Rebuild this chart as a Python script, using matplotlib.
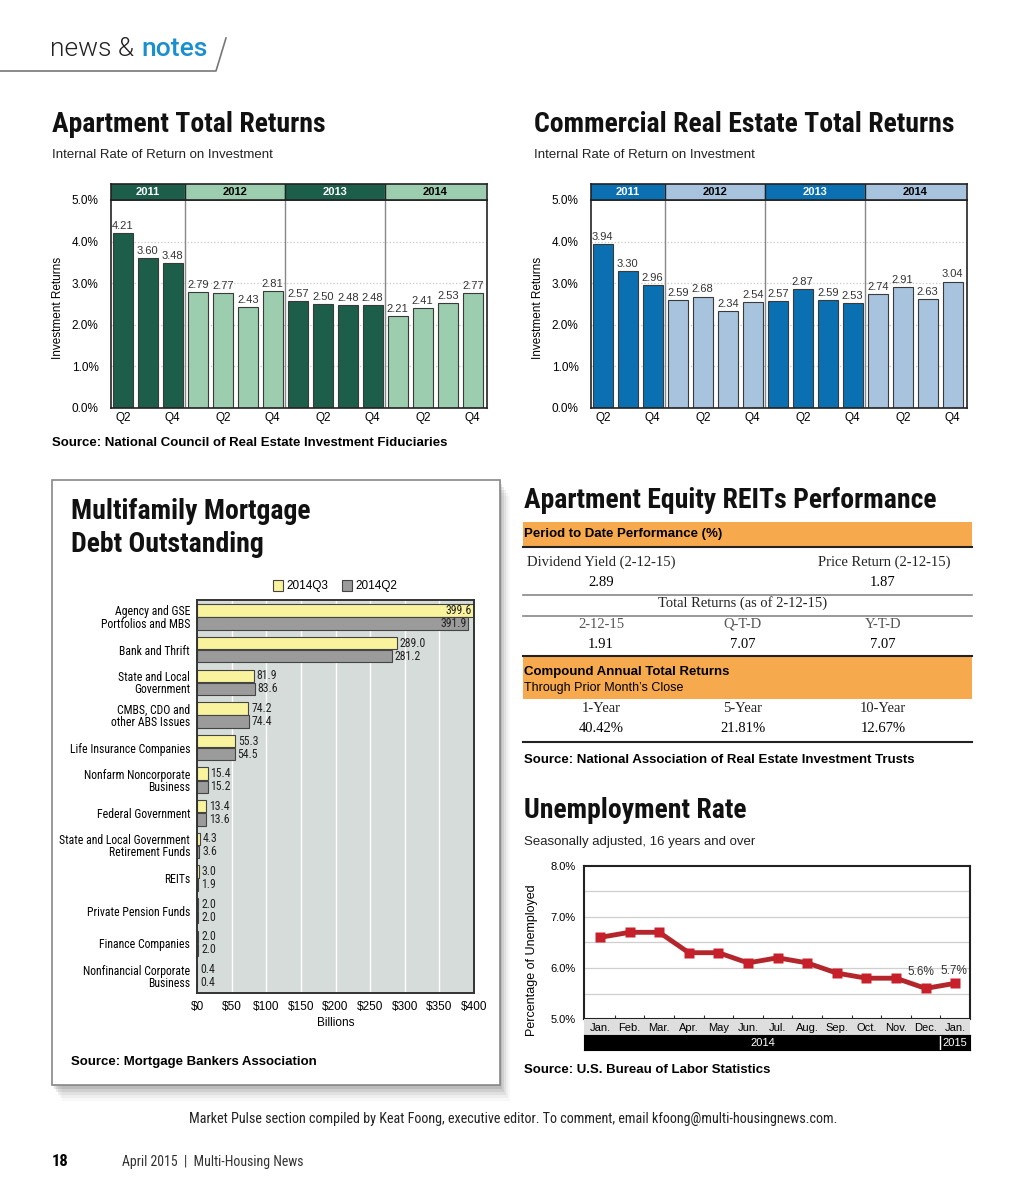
import matplotlib
matplotlib.use("Agg")
import matplotlib.pyplot as plt
from matplotlib import font_manager
from matplotlib.patches import Rectangle
from matplotlib.lines import Line2D
import numpy as np

W, H = 1024, 1195

# ============================================================================
# 数据
# ============================================================================
years = ["2011", "2012", "2013", "2014"]
year_counts = [3, 4, 4, 4]
quarters = ["Q2", "Q3", "Q4"] + ["Q1", "Q2", "Q3", "Q4"] * 3
apt_returns = [4.21, 3.60, 3.48, 2.79, 2.77, 2.43, 2.81, 2.57, 2.50, 2.48, 2.48,
               2.21, 2.41, 2.53, 2.77]
cre_returns = [3.94, 3.30, 2.96, 2.59, 2.68, 2.34, 2.54, 2.57, 2.87, 2.59, 2.53,
               2.74, 2.91, 2.63, 3.04]

debt_categories = ["Agency and GSE\nPortfolios and MBS", "Bank and Thrift",
                   "State and Local\nGovernment", "CMBS, CDO and\nother ABS Issues",
                   "Life Insurance Companies", "Nonfarm Noncorporate\nBusiness",
                   "Federal Government", "State and Local Government\nRetirement Funds",
                   "REITs", "Private Pension Funds", "Finance Companies",
                   "Nonfinancial Corporate\nBusiness"]
debt_2014q3 = [399.6, 289.0, 81.9, 74.2, 55.3, 15.4, 13.4, 4.3, 3.0, 2.0, 2.0, 0.4]
debt_2014q2 = [391.9, 281.2, 83.6, 74.4, 54.5, 15.2, 13.6, 3.6, 1.9, 2.0, 2.0, 0.4]
debt_ticks = [0, 50, 100, 150, 200, 250, 300, 350, 400]

months = ["Jan.", "Feb.", "Mar.", "Apr.", "May", "Jun.", "Jul.", "Aug.", "Sep.",
          "Oct.", "Nov.", "Dec.", "Jan."]
unemployment = [6.6, 6.7, 6.7, 6.3, 6.3, 6.1, 6.2, 6.1, 5.9, 5.8, 5.8, 5.6, 5.7]

reit_period_labels = ["Dividend Yield (2-12-15)", "Price Return (2-12-15)"]
reit_period_values = ["2.89", "1.87"]
reit_total_labels = ["2-12-15", "Q-T-D", "Y-T-D"]
reit_total_values = ["1.91", "7.07", "7.07"]
reit_annual_labels = ["1-Year", "5-Year", "10-Year"]
reit_annual_values = ["40.42%", "21.81%", "12.67%"]

# ── 字体 ──
available = {f.name for f in font_manager.fontManager.ttflist}


def pick(cands, default="Liberation Sans"):
    for c in cands:
        if c in available:
            return c
    return default


NARROW = pick(["Roboto Condensed", "Archivo Narrow", "PT Sans Narrow",
               "Liberation Sans Narrow", "Open Sans Condensed"])
LIGHT = pick(["Roboto", "Lato", "Open Sans"])
SANS = "Liberation Sans"
SERIF = "Liberation Serif"
plt.rcParams["font.family"] = SANS

fig = plt.figure(figsize=(W / 100, H / 100), dpi=100)


def px_axes(l, t, r, b, **kw):
    return fig.add_axes([l / W, 1 - b / H, (r - l) / W, (b - t) / H], **kw)


def T(x, y, s, **kw):
    kw.setdefault("va", "center")
    return fig.text(x / W, 1 - y / H, s, **kw)


def rect(l, t, r, b, **kw):
    fig.add_artist(Rectangle((l / W, 1 - b / H), (r - l) / W, (b - t) / H,
                             transform=fig.transFigure, **kw))


def hline(x0, x1, y, **kw):
    fig.add_artist(Line2D([x0 / W, x1 / W], [1 - y / H, 1 - y / H],
                          transform=fig.transFigure, **kw))


def title(x, y, s):
    T(x, y, s, fontsize=20, fontweight="bold", family=NARROW, color="#111")


# ============================================================================
# 页眉
# ============================================================================
T(50, 49, "news &", fontsize=19, color="#222", family=LIGHT, fontweight=300)
T(141, 49, "notes", fontsize=19, color="#1a8fd0", family=LIGHT, fontweight="medium")
fig.add_artist(Line2D(np.array([0, 216, 226]) / W, 1 - np.array([71, 71, 38]) / H,
                      transform=fig.transFigure, color="#777", lw=1.2))


# ============================================================================
# 回报柱状图
# ============================================================================
def returns_chart(left, right, title_x, name, values, dark, light, source=None):
    title(title_x, 125, name)
    T(title_x, 155, "Internal Rate of Return on Investment", fontsize=9.5, color="#222")

    x = np.arange(len(values))
    year_idx = np.repeat(np.arange(len(years)), year_counts)
    cols = [dark if k % 2 == 0 else light for k in year_idx]
    bounds = np.cumsum(year_counts)[:-1] - 0.5

    ax = px_axes(left, 200, right, 408)
    for y in [1, 2, 3, 4]:
        ax.axhline(y, color="#c8c8c8", ls=":", lw=0.9, zorder=0)
    for b in bounds:
        ax.axvline(b, color="#888", lw=1.0, zorder=0)
    ax.bar(x, values, width=0.78, color=cols, edgecolor="#3a3a3a", linewidth=0.8, zorder=2)
    for i, v in enumerate(values):
        ax.text(i, v + 0.05, f"{v:.2f}", ha="center", va="bottom", fontsize=8, color="#333")
    ax.set_xlim(-0.47, len(values) - 0.43)
    ax.set_ylim(0, 5)
    ax.set_yticks([0, 1, 2, 3, 4, 5])
    ax.set_yticklabels([f"{v:.1f}%" for v in range(6)], fontsize=8.5)
    qi = [i for i, q in enumerate(quarters) if q in ("Q2", "Q4")]
    ax.set_xticks(qi)
    ax.set_xticklabels([quarters[i] for i in qi], fontsize=8.5)
    ax.tick_params(length=0, pad=3)
    ax.tick_params(axis="y", pad=9)
    for s in ax.spines.values():
        s.set_color("#222")
        s.set_linewidth(1.2)
    T(left - 53, 308, "Investment Returns", fontsize=8.5, rotation=90, ha="center")

    # 年份色带
    band = px_axes(left, 184, right, 200)
    band.set_xlim(ax.get_xlim())
    band.set_ylim(0, 1)
    start = 0
    for k, (yr, n) in enumerate(zip(years, year_counts)):
        c = dark if k % 2 == 0 else light
        band.add_patch(Rectangle((start - 0.5, 0), n, 1, color=c))
        band.text(start - 0.5 + n / 2, 0.48, yr, ha="center", va="center", fontsize=8,
                  fontweight="bold", color="white" if k % 2 == 0 else "black")
        if k > 0:
            band.axvline(start - 0.5, color="#222", lw=1.0)
        start += n
    band.set_xticks([])
    band.set_yticks([])
    for s in band.spines.values():
        s.set_color("#222")
        s.set_linewidth(1.2)

    if source:
        T(title_x, 443, source, fontsize=9.5, fontweight="bold")


returns_chart(111, 487, 52, "Apartment Total Returns", apt_returns, "#1c5e4a", "#9ccdae",
              "Source: National Council of Real Estate Investment Fiduciaries")
returns_chart(591, 967, 534, "Commercial Real Estate Total Returns", cre_returns,
              "#0a70b2", "#a7c3de")


# ============================================================================
# Multifamily 贷款余额
# ============================================================================
for k, a in enumerate([0.04, 0.06, 0.09, 0.12, 0.16, 0.2]):
    off = 16 - k * 3
    rect(52 + off * 0.6, 480 + off, 500 + off * 0.6, 1085 + off, facecolor="#555",
         edgecolor="none", alpha=a, zorder=0)
rect(52, 480, 500, 1085, facecolor="white", edgecolor="#888", lw=1.2, zorder=1)
title(71, 512, "Multifamily Mortgage")
title(71, 545, "Debt Outstanding")

rect(273, 580, 283, 591, facecolor="#f8f39c", edgecolor="#444", lw=0.8, zorder=2)
T(286, 586, "2014Q3", fontsize=8.5)
rect(342, 580, 352, 591, facecolor="#9b9b9b", edgecolor="#444", lw=0.8, zorder=2)
T(355, 586, "2014Q2", fontsize=8.5)

ax = px_axes(197, 600, 474, 993, facecolor="#d6dcd9")
ax.set_zorder(3)
yy = np.arange(len(debt_categories))
for t in debt_ticks[1:-1]:
    ax.axvline(t, color="white", lw=1.0, zorder=0)
ax.barh(yy - 0.2, debt_2014q3, height=0.38, color="#f8f39c", edgecolor="#444", lw=0.8, zorder=2)
ax.barh(yy + 0.2, debt_2014q2, height=0.38, color="#9b9b9b", edgecolor="#444", lw=0.8, zorder=2)
for i, (a, b) in enumerate(zip(debt_2014q3, debt_2014q2)):
    for v, off in [(a, -0.2), (b, 0.2)]:
        if v > 350:
            ax.text(v - 3, i + off, f"{v:.1f}", ha="right", va="center", fontsize=8.5,
                    family=NARROW, color="#222")
        else:
            ax.text(v + 4, i + off, f"{v:.1f}", ha="left", va="center", fontsize=8.5,
                    family=NARROW, color="#222")
ax.set_xlim(0, 400)
ax.set_ylim(len(debt_categories) - 0.48, -0.52)
ax.set_yticks(yy)
ax.set_yticklabels(debt_categories, fontsize=8.5, family=NARROW, linespacing=0.95)
ax.set_xticks(debt_ticks)
ax.set_xticklabels([f"${t}" for t in debt_ticks], fontsize=8.5)
ax.tick_params(length=0)
ax.tick_params(axis="x", pad=6)
ax.tick_params(axis="y", pad=5)
for s in ax.spines.values():
    s.set_color("#333")
    s.set_linewidth(1.4)
T(336, 1023, "Billions", fontsize=8.5, ha="center", zorder=3)
T(71, 1062, "Source: Mortgage Bankers Association", fontsize=9.5, fontweight="bold", zorder=3)


# ============================================================================
# REITs 表格
# ============================================================================
title(524, 500, "Apartment Equity REITs Performance")
ORANGE = "#f7a94e"
rect(523, 522, 972, 546, facecolor=ORANGE, edgecolor="none")
T(524, 534, "Period to Date Performance (%)", fontsize=9.5, fontweight="bold")
hline(523, 972, 547, color="#222", lw=1.5)
col3 = [601, 743, 883]
T(527, 562, reit_period_labels[0], fontsize=10.5, family=SERIF, color="#222")
T(951, 562, reit_period_labels[1], fontsize=10.5, family=SERIF, color="#222", ha="right")
T(col3[0], 582, reit_period_values[0], fontsize=10.5, family=SERIF, ha="center")
T(col3[2], 582, reit_period_values[1], fontsize=10.5, family=SERIF, ha="center")
hline(523, 972, 595, color="#888", lw=1.2)
T(col3[1], 603, "Total Returns (as of 2-12-15)", fontsize=10.5, family=SERIF, ha="center",
  color="#222")
hline(523, 972, 616, color="#888", lw=1.2)
for x, lab, val in zip(col3, reit_total_labels, reit_total_values):
    T(x, 624, lab, fontsize=10.5, family=SERIF, ha="center", color="#555")
    T(x, 644, val, fontsize=10.5, family=SERIF, ha="center")
hline(523, 972, 656, color="#222", lw=1.5)
rect(523, 657, 972, 699, facecolor=ORANGE, edgecolor="none")
T(524, 672, "Compound Annual Total Returns", fontsize=9.5, fontweight="bold")
T(524, 688, "Through Prior Month\u2019s Close", fontsize=9)
for x, lab, val in zip(col3, reit_annual_labels, reit_annual_values):
    T(x, 709, lab, fontsize=10.5, family=SERIF, ha="center", color="#222")
    T(x, 729, val, fontsize=10.5, family=SERIF, ha="center")
hline(523, 972, 742, color="#222", lw=1.5)
T(524, 760, "Source: National Association of Real Estate Investment Trusts", fontsize=9.5,
  fontweight="bold")


# ============================================================================
# 失业率
# ============================================================================
title(524, 811, "Unemployment Rate")
T(524, 842, "Seasonally adjusted, 16 years and over", fontsize=9.5, color="#222")

ax = px_axes(584, 866, 970, 1019)
xm = np.arange(len(months))
for y in [5.5, 6.0, 6.5, 7.0, 7.5]:
    ax.axhline(y, color="#cfcfcf", lw=0.9, zorder=0)
ax.plot(xm, unemployment, color="#b3262b", lw=3.5, marker="s", ms=7,
        markerfacecolor="#c8202a", markeredgecolor="none", zorder=3)
ax.text(10.85, 5.93, "5.6%", ha="center", va="center", fontsize=8.5, color="#333")
ax.text(11.97, 5.95, "5.7%", ha="center", va="center", fontsize=8.5, color="#333")
ax.set_xlim(-0.54, len(months) - 0.5)
ax.set_ylim(5, 8)
ax.set_yticks([5, 6, 7, 8])
ax.set_yticklabels([f"{v:.1f}%" for v in [5, 6, 7, 8]], fontsize=8)
ax.set_xticks(np.arange(0.5, len(months) - 1, 1))
ax.set_xticklabels([])
ax.tick_params(axis="x", direction="in", length=3, color="#333")
ax.tick_params(axis="y", length=0, pad=6)
for s in ax.spines.values():
    s.set_color("#222")
    s.set_linewidth(1.5)
T(532, 960, "Percentage of Unemployed", fontsize=9, rotation=90, ha="center")

mb = px_axes(584, 1019, 970, 1035, facecolor="#dedede")
mb.set_xlim(ax.get_xlim())
mb.set_ylim(0, 1)
for i, m in enumerate(months):
    mb.text(i, 0.45, m, ha="center", va="center", fontsize=8)
mb.set_xticks([])
mb.set_yticks([])
for s in mb.spines.values():
    s.set_visible(False)

yb = px_axes(584, 1035, 970, 1050, facecolor="black")
yb.set_xlim(ax.get_xlim())
yb.set_ylim(0, 1)
yb.axvline(len(months) - 1.5, color="white", lw=1)
yb.text((len(months) - 2) / 2, 0.45, "2014", ha="center", va="center", fontsize=8, color="white")
yb.text(len(months) - 1, 0.45, "2015", ha="center", va="center", fontsize=8, color="white")
yb.set_xticks([])
yb.set_yticks([])
T(524, 1070, "Source: U.S. Bureau of Labor Statistics", fontsize=9.5, fontweight="bold")


# ============================================================================
# 页脚
# ============================================================================
T(513, 1119, "Market Pulse section compiled by Keat Foong, executive editor. "
  "To comment, email kfoong@multi-housingnews.com.", fontsize=10.2, family=NARROW,
  ha="center", color="#222")
T(52, 1162, "18", fontsize=12, fontweight="bold", family=NARROW)
T(122, 1162, "April 2015  |  Multi-Housing News", fontsize=10, family=NARROW, color="#333")

fig.savefig("out.png", dpi=100)
